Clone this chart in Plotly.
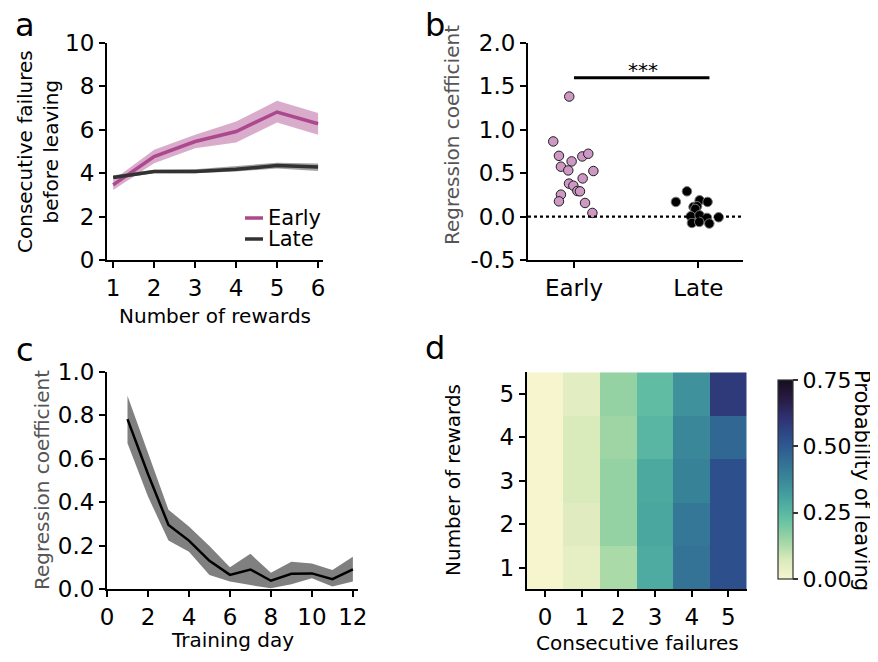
import plotly.graph_objects as go

# The page body keeps its default 8 px margin, so the figure is made 8 px
# smaller and every layout position is measured from that offset.
PAGE_W, PAGE_H = 878, 662
OFF = 8
W, H = PAGE_W - OFF, PAGE_H - OFF
FONT = "DejaVu Sans"

# ---------------- data ----------------
# panel a
rewards = [1, 2, 3, 4, 5, 6]
early_mean = [3.46, 4.77, 5.46, 5.92, 6.82, 6.28]
early_lo = [3.23, 4.46, 5.15, 5.42, 6.34, 5.77]
early_hi = [3.69, 5.08, 5.77, 6.38, 7.34, 6.77]
late_mean = [3.80, 4.08, 4.08, 4.18, 4.35, 4.28]
late_lo = [3.72, 4.00, 4.00, 4.08, 4.22, 4.10]
late_hi = [3.90, 4.16, 4.18, 4.32, 4.48, 4.45]

# panel b
early_x = [-0.038, -0.167, -0.121, -0.019, 0.067, 0.115, -0.105, -0.046, 0.156,
           0.070, -0.040, -0.005, 0.027, 0.048, -0.105, -0.121, 0.089, 0.148]
early_y = [1.383, 0.866, 0.700, 0.636, 0.693, 0.724, 0.575, 0.532, 0.525,
           0.440, 0.380, 0.356, 0.295, 0.291, 0.253, 0.176, 0.157, 0.042]
late_x = [0.909, 0.820, 1.011, 1.075, 0.962, 0.990, 0.976, 0.940, 1.010,
          1.070, 1.164, 0.949, 1.008, 1.089]
late_y = [0.291, 0.169, 0.188, 0.169, 0.111, 0.119, 0.088, 0.004, 0.015,
          -0.015, -0.008, -0.073, -0.061, -0.080]
group_labels = ["Early", "Late"]
sig_level = 1.6

# panel c
days = [1, 2, 3, 4, 5, 6, 7, 8, 9, 10, 11, 12]
coef_mean = [0.783, 0.530, 0.295, 0.223, 0.130, 0.065, 0.090, 0.038, 0.070, 0.072, 0.045, 0.090]
coef_hi = [0.890, 0.626, 0.365, 0.288, 0.198, 0.100, 0.162, 0.075, 0.126, 0.118, 0.088, 0.149]
coef_lo = [0.672, 0.426, 0.223, 0.172, 0.065, 0.034, 0.018, 0.003, 0.022, 0.050, 0.011, 0.034]

# panel d
failures = [0, 1, 2, 3, 4, 5]
n_rewards = [1, 2, 3, 4, 5]
p_leave = [
    [0.005, 0.040, 0.130, 0.285, 0.430, 0.525],
    [0.005, 0.055, 0.160, 0.295, 0.420, 0.525],
    [0.005, 0.070, 0.160, 0.290, 0.390, 0.525],
    [0.005, 0.070, 0.145, 0.255, 0.375, 0.460],
    [0.005, 0.050, 0.160, 0.235, 0.350, 0.585],
]

# ---------------- colours ----------------
EARLY = "rgb(172,72,142)"
EARLY_BAND = "rgba(172,72,142,0.45)"
LATE = "rgb(50,50,50)"
LATE_BAND = "rgba(50,50,50,0.45)"
HEAT_SCALE = [
    [0.0, "rgb(248,246,206)"],
    [0.1, "rgb(215,233,186)"],
    [0.2, "rgb(155,212,163)"],
    [0.3, "rgb(100,193,163)"],
    [0.4, "rgb(72,165,160)"],
    [0.5, "rgb(58,135,153)"],
    [0.6, "rgb(50,108,148)"],
    [0.7, "rgb(45,80,140)"],
    [0.8, "rgb(48,52,118)"],
    [0.9, "rgb(40,28,70)"],
    [1.0, "rgb(22,14,28)"],
]


def px(x):
    return (x - OFF) / W


def py(y):
    return 1 - (y - OFF) / H


fig = go.Figure()

# panel a bands and lines
fig.add_trace(go.Scatter(x=rewards + rewards[::-1], y=early_hi + early_lo[::-1],
                         fill="toself", fillcolor=EARLY_BAND, line=dict(width=0),
                         mode="lines", showlegend=False, hoverinfo="skip",
                         xaxis="x", yaxis="y"))
fig.add_trace(go.Scatter(x=rewards + rewards[::-1], y=late_hi + late_lo[::-1],
                         fill="toself", fillcolor=LATE_BAND, line=dict(width=0),
                         mode="lines", showlegend=False, hoverinfo="skip",
                         xaxis="x", yaxis="y"))
fig.add_trace(go.Scatter(x=rewards, y=early_mean, mode="lines",
                         line=dict(color=EARLY, width=3.5), name="Early",
                         showlegend=False, xaxis="x", yaxis="y"))
fig.add_trace(go.Scatter(x=rewards, y=late_mean, mode="lines",
                         line=dict(color=LATE, width=3.5), name="Late",
                         showlegend=False, xaxis="x", yaxis="y"))

# panel b
fig.add_trace(go.Scatter(x=early_x, y=early_y, mode="markers",
                         marker=dict(size=9.5, color="rgb(206,152,196)",
                                     line=dict(color="rgb(30,30,30)", width=1)),
                         showlegend=False, xaxis="x2", yaxis="y2"))
fig.add_trace(go.Scatter(x=late_x, y=late_y, mode="markers",
                         marker=dict(size=9.5, color="black",
                                     line=dict(color="rgb(120,120,120)", width=1)),
                         showlegend=False, xaxis="x2", yaxis="y2"))
fig.add_trace(go.Scatter(x=[0, 1.09], y=[sig_level, sig_level], mode="lines",
                         line=dict(color="black", width=3), showlegend=False,
                         hoverinfo="skip", xaxis="x2", yaxis="y2"))

# panel c
fig.add_trace(go.Scatter(x=days + days[::-1], y=coef_hi + coef_lo[::-1],
                         fill="toself", fillcolor="rgb(128,128,128)", line=dict(width=0),
                         mode="lines", showlegend=False, hoverinfo="skip",
                         xaxis="x3", yaxis="y3"))
fig.add_trace(go.Scatter(x=days, y=coef_mean, mode="lines",
                         line=dict(color="black", width=2.5), showlegend=False,
                         xaxis="x3", yaxis="y3"))

# panel d
fig.add_trace(go.Heatmap(
    x=failures, y=n_rewards, z=p_leave, colorscale=HEAT_SCALE, zmin=0, zmax=0.75,
    xaxis="x4", yaxis="y4",
    colorbar=dict(
        x=px(768), xanchor="left", y=py(589), yanchor="bottom",
        len=(589 - 370) / H, lenmode="fraction", thickness=15, thicknessmode="pixels",
        outlinewidth=1.2, outlinecolor="#333",
        tickvals=[0, 0.25, 0.5, 0.75], ticktext=["0.00", "0.25", "0.50", "0.75"],
        ticks="outside", ticklen=5, tickwidth=1.5, tickcolor="#333",
        tickfont=dict(size=22, family=FONT, color="black"),
    ),
))

axis_common = dict(showline=True, linecolor="black", linewidth=2, ticks="outside",
                   ticklen=6, tickwidth=2, tickcolor="black", showgrid=False,
                   zeroline=False, tickfont=dict(size=23, family=FONT, color="black"),
                   fixedrange=True)

fig.update_layout(
    width=W, height=H, margin=dict(l=0, r=0, t=0, b=0, autoexpand=False),
    paper_bgcolor="white", plot_bgcolor="white",
    font=dict(family=FONT, size=20, color="black"),
    showlegend=False,
    xaxis=dict(domain=[px(107), px(323)], range=[0.85, 6.12], tickvals=rewards,
               anchor="y", **axis_common),
    yaxis=dict(domain=[py(260), py(43)], range=[0, 10], tickvals=[0, 2, 4, 6, 8, 10],
               anchor="x", **axis_common),
    xaxis2=dict(domain=[px(528), px(743)], range=[-0.37, 1.36], tickvals=[0, 1],
                ticktext=group_labels, anchor="y2", **axis_common),
    yaxis2=dict(domain=[py(260), py(43)], range=[-0.5, 2.0],
                tickvals=[-0.5, 0, 0.5, 1.0, 1.5, 2.0],
                ticktext=["-0.5", "0.0", "0.5", "1.0", "1.5", "2.0"],
                anchor="x2", **axis_common),
    xaxis3=dict(domain=[px(107), px(358)], range=[0, 12.25],
                tickvals=[0, 2, 4, 6, 8, 10, 12], anchor="y3", **axis_common),
    yaxis3=dict(domain=[py(589), py(372)], range=[0, 1.0],
                tickvals=[0, 0.2, 0.4, 0.6, 0.8, 1.0],
                ticktext=["0.0", "0.2", "0.4", "0.6", "0.8", "1.0"],
                anchor="x3", **axis_common),
    xaxis4=dict(domain=[px(526.7), px(746.7)], range=[-0.5, 5.5], tickvals=failures,
                anchor="y4", **axis_common),
    yaxis4=dict(domain=[py(589.3), py(372.3)], range=[0.5, 5.5], tickvals=n_rewards,
                anchor="x4", **axis_common),
)

# zero reference line in panel b
fig.add_shape(type="line", xref="x2 domain", x0=0, x1=1, yref="y2", y0=0, y1=0,
              line=dict(color="black", width=2.2, dash="dot"))

ann = []


def text(x, y, s, size=20, color="black", angle=0, xanchor="center", yanchor="middle",
         height=None):
    a = dict(x=px(x), y=py(y), xref="paper", yref="paper", text=s,
             showarrow=False, textangle=angle, xanchor=xanchor, yanchor=yanchor,
             font=dict(size=size, family=FONT, color=color))
    if height is not None:
        a["height"] = height
    ann.append(a)


# panel letters
text(25, 25, "a", size=32, height=34)
text(435, 25, "b", size=32, height=34)
text(25, 350, "c", size=32, height=34)
text(435, 348, "d", size=32, height=34)

# axis titles
text(38, 152, "Consecutive failures<br>before leaving", angle=-90)
text(215, 316, "Number of rewards")
text(452, 135, "Regression coefficient", color="rgb(85,85,85)", angle=-90)
text(42, 480, "Regression coefficient", color="rgb(85,85,85)", angle=-90)
text(232, 640, "Training day")
text(453, 480, "Number of rewards", angle=-90)
text(637, 643, "Consecutive failures")
text(862, 480, "Probability of leaving", size=21, angle=90)

# significance stars
ann.append(dict(x=0.556, y=1.69, xref="x2", yref="y2", text="***", showarrow=False,
                font=dict(size=20, family=FONT, color="black")))

# legend (panel a)
for label, color, yy in [("Early", EARLY, 218), ("Late", LATE, 239)]:
    fig.add_shape(type="line", xref="paper", yref="paper", x0=px(245), x1=px(263),
                  y0=py(yy), y1=py(yy), line=dict(color=color, width=3.5))
    text(266, yy, label, size=21, xanchor="left")

fig.update_layout(annotations=ann)

fig.write_html("out.html")
